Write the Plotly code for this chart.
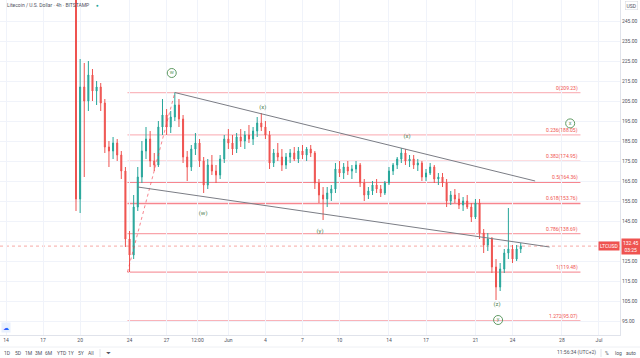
import plotly.graph_objects as go
import pandas as pd

# ---------------- data ----------------
start_time = "2021-05-19 08:00"
first_open = 290
closes = [270, 156, 212, 205, 218, 210, 212, 204, 182, 180, 184, 178, 170, 136, 128, 152, 167, 180, 186, 175,
          173, 192, 198, 192, 197, 203, 196, 177, 172, 181, 184, 175, 163, 173, 170, 168, 176, 186, 184, 181,
          187, 185, 188, 186, 190, 194, 192, 188, 174, 179, 177, 173, 177, 179, 176, 180, 178, 181, 179, 164,
          158, 156, 159, 161, 171, 169, 172, 170, 171, 173, 164, 158, 160, 163, 161, 159, 164, 170, 173, 176,
          179, 175, 176, 173, 174, 167, 169, 172, 166, 167, 164, 155, 158, 156, 153, 155, 152, 147, 154, 139,
          133, 136, 122, 112, 121, 129, 131, 126, 131, 132.45]
highs = [300, 275, 226, 224, 225, 221, 215, 214, 206, 185, 187, 186, 180, 172, 140, 158, 172, 185, 192, 190,
         179, 195, 206, 201, 200, 209.23, 206, 198, 180, 183, 189, 186, 177, 176, 178, 173, 178, 188, 191, 188,
         189, 191, 190, 193, 192, 197, 199, 195, 190, 181, 184, 181, 179, 181, 182, 182, 183, 182, 183, 180,
         166, 162, 162, 163, 174, 175, 174, 175, 173, 175, 174, 166, 162, 165, 166, 163, 165, 172, 174, 177,
         181.5, 181, 178, 178, 176, 175, 171, 174, 173, 169, 169, 166, 160, 161, 159, 157, 158, 154, 156, 156,
         141, 139, 137, 126, 124, 131, 151.5, 133, 133, 134]
lows = [262, 150, 149, 167, 200, 205, 203, 200, 179, 172, 176, 175, 166, 132, 119.48, 126, 150, 164, 176, 172,
        170, 172, 188, 188, 189, 195, 192, 174, 165, 170, 178, 172, 159, 161, 168, 164, 166, 174, 181, 178,
        179, 182, 181, 184, 183, 187, 190, 186, 171, 172, 175, 170, 171, 174, 175, 174, 176, 175, 177, 161,
        154, 145.5, 152, 155, 159, 167, 166, 168, 166, 169, 162, 155, 156, 158, 159, 157, 158, 163, 168, 171,
        174, 173, 172, 171, 170, 165, 165, 168, 164, 163, 162, 152, 153, 154, 151, 150, 151, 144.5, 146, 136,
        129, 130, 119, 105.5, 110, 119, 126, 124, 125, 129]

fib_ratios = ["0", "0.236", "0.382", "0.5", "0.618", "0.786", "1", "1.272"]
fib_prices = [209.23, 188.05, 174.95, 164.36, 153.76, 138.69, 119.48, 95.07]
fib_start = "2021-05-23 20:00"
fib_end = "2021-06-29 12:00"

fib_trend_dates = ["2021-05-23 20:00", "2021-05-27 16:00"]
fib_trend_prices = [119.48, 209.23]
upper_line_dates = ["2021-05-27 16:00", "2021-06-25 20:00"]
upper_line_prices = [209.23, 165.0]
lower_line_dates = ["2021-05-24 16:00", "2021-06-27 00:00"]
lower_line_prices = [162.0, 132.0]

wave_text = ["(x)", "(w)", "(y)", "(x)", "(z)"]
wave_dates = ["2021-06-03 19:00", "2021-05-29 23:00", "2021-06-08 10:00", "2021-06-15 11:00", "2021-06-22 18:00"]
wave_prices = [202.0, 149.0, 140.0, 187.5, 103.5]
circ_text = ["w", "x", "y"]
circ_dates = ["2021-05-27 10:00", "2021-06-28 16:00", "2021-06-22 20:00"]
circ_prices = [219.0, 193.8, 95.5]

tick_dates = ["2021-05-14", "2021-05-17", "2021-05-20", "2021-05-24", "2021-05-27", "2021-05-29 12:00",
              "2021-06-01", "2021-06-04", "2021-06-07", "2021-06-10", "2021-06-14", "2021-06-17",
              "2021-06-21", "2021-06-24", "2021-06-28", "2021-07-01"]
tick_text = ["14", "17", "20", "24", "27", "12:00", "Jun", "4", "7", "10", "14", "17", "21", "24", "28", "Jul"]
y_ticks = [95, 105, 115, 125, 135, 145, 155, 165, 175, 185, 195, 205, 215, 225, 235, 245, 255]
y_labels = ["95.00", "105.00", "115.00", "125.00", "", "145.00", "155.00", "165.00", "175.00", "185.00",
            "195.00", "205.00", "215.00", "225.00", "235.00", "245.00", "255.00"]

range_buttons = ["1D", "5D", "1M", "3M", "6M", "YTD", "1Y", "5Y", "All"]
range_button_px = [7, 17.5, 28, 39, 49, 61, 71, 81, 91]

last_price = 132.45
# ---------------------------------------

times = pd.date_range(start_time, periods=len(closes), freq="8h")
opens = [first_open] + closes[:-1]

UP = "#26a69a"
DN = "#ef5350"
FIBC = "rgba(242,54,69,{})"
GREEN = "#5f9a63"
TXT = "#50535e"
FONT = "Roboto"
PLOT_W = 620.0
PLOT_H = 335.0

fig = go.Figure()
fig.add_trace(go.Candlestick(
    x=times, open=opens, high=highs, low=lows, close=closes,
    increasing=dict(line=dict(color=UP, width=1), fillcolor=UP),
    decreasing=dict(line=dict(color=DN, width=1), fillcolor=DN),
    whiskerwidth=0, showlegend=False, hoverinfo="skip"))

shapes = []
fib_alpha = [0.35, 0.35, 0.35, 0.6, 0.6, 0.45, 0.5, 0.5]
for r, p, a in zip(fib_ratios, fib_prices, fib_alpha):
    shapes.append(dict(type="line", xref="x", yref="y", x0=fib_start, x1=fib_end, y0=p, y1=p,
                       line=dict(color=FIBC.format(a), width=1.3), layer="below"))
shapes.append(dict(type="line", xref="x", yref="y", x0=fib_trend_dates[0], x1=fib_trend_dates[1],
                   y0=fib_trend_prices[0], y1=fib_trend_prices[1],
                   line=dict(color="rgba(242,54,69,0.6)", width=1, dash="dot")))
for d, p in ((upper_line_dates, upper_line_prices), (lower_line_dates, lower_line_prices)):
    shapes.append(dict(type="line", xref="x", yref="y", x0=d[0], x1=d[1], y0=p[0], y1=p[1],
                       line=dict(color="#7b7d85", width=1)))
shapes.append(dict(type="line", xref="paper", yref="y", x0=0, x1=1, y0=last_price, y1=last_price,
                   line=dict(color="rgba(239,83,80,0.5)", width=1, dash="dot"), layer="below"))
shapes.append(dict(type="line", xref="paper", yref="paper", x0=0, x1=640 / PLOT_W, y0=-12 / PLOT_H, y1=-12 / PLOT_H,
                   line=dict(color="#eef0f4", width=1)))
shapes.append(dict(type="line", xref="paper", yref="paper", x0=100 / PLOT_W, x1=100 / PLOT_W,
                   y0=-14 / PLOT_H, y1=-22 / PLOT_H, line=dict(color="#e0e3eb", width=1)))
shapes.append(dict(type="line", xref="paper", yref="paper", x0=601 / PLOT_W, x1=601 / PLOT_W,
                   y0=-14 / PLOT_H, y1=-22 / PLOT_H, line=dict(color="#e0e3eb", width=1)))

annotations = []
for r, p in zip(fib_ratios, fib_prices):
    annotations.append(dict(x=fib_end, y=p, xref="x", yref="y", text=f"{r}({p:.2f})", showarrow=False,
                            xanchor="right", yanchor="bottom", yshift=-1,
                            font=dict(family=FONT, size=5, color="#ef5350")))

fig.add_trace(go.Scatter(x=wave_dates, y=wave_prices, mode="text", text=wave_text,
                         textfont=dict(family=FONT, size=6, color="#4f7f52"), showlegend=False, hoverinfo="skip"))
fig.add_trace(go.Scatter(x=circ_dates, y=circ_prices, mode="markers+text", text=circ_text,
                         marker=dict(symbol="circle-open", size=9, color=GREEN, line=dict(width=1)),
                         textposition="middle center",
                         textfont=dict(family=FONT, size=5.5, color=GREEN), showlegend=False, hoverinfo="skip"))

annotations.append(dict(x=5 / PLOT_W, y=1 - 5 / PLOT_H, xref="paper", yref="paper",
                        text="Litecoin / U.S. Dollar · 4h · BITSTAMP",
                        showarrow=False, xanchor="left", yanchor="middle",
                        font=dict(family=FONT, size=5, color=TXT)))
annotations.append(dict(x=98 / PLOT_W, y=1 - 5 / PLOT_H, xref="paper", yref="paper", text="●", showarrow=False,
                        xanchor="center", yanchor="middle", font=dict(family=FONT, size=4.5, color=UP)))
for t, px in zip(range_buttons, range_button_px):
    annotations.append(dict(x=px / PLOT_W, y=-18 / PLOT_H, xref="paper", yref="paper", text=t, showarrow=False,
                            xanchor="center", yanchor="middle", font=dict(family=FONT, size=5, color=TXT)))
annotations.append(dict(x=108 / PLOT_W, y=-18 / PLOT_H, xref="paper", yref="paper", text="⏷", showarrow=False,
                        xanchor="center", yanchor="middle", font=dict(family=FONT, size=6, color=TXT)))
annotations.append(dict(x=576 / PLOT_W, y=-18 / PLOT_H, xref="paper", yref="paper", text="11:56:34 (UTC+2)",
                        showarrow=False, xanchor="center", yanchor="middle",
                        font=dict(family=FONT, size=5, color=TXT)))
for t, px in zip(["%", "log", "auto"], [607, 618, 631]):
    annotations.append(dict(x=px / PLOT_W, y=-18 / PLOT_H, xref="paper", yref="paper", text=t, showarrow=False,
                            xanchor="center", yanchor="middle", font=dict(family=FONT, size=5, color=TXT)))
annotations.append(dict(x=6 / PLOT_W, y=8 / PLOT_H, xref="paper", yref="paper", text="☁", showarrow=False,
                        xanchor="center", yanchor="middle", bgcolor="#e8f0fe",
                        font=dict(family=FONT, size=6, color="#2962ff")))
annotations.append(dict(x=1.0, y=last_price, xref="paper", yref="y", text="LTCUSD", showarrow=False,
                        xanchor="right", yanchor="middle", bgcolor=DN, borderpad=1,
                        font=dict(family=FONT, size=5, color="white")))
annotations.append(dict(x=1.002, y=last_price, xref="paper", yref="y", text="132.45<br>03:25", showarrow=False,
                        xanchor="left", yanchor="middle", bgcolor=DN, borderpad=1,
                        font=dict(family=FONT, size=5, color="white")))
annotations.append(dict(x=638 / PLOT_W, y=1 - 6 / PLOT_H, xref="paper", yref="paper", text="USD", showarrow=False,
                        xanchor="right", yanchor="middle", bordercolor="#d1d4dc", borderwidth=0.5, borderpad=1,
                        bgcolor="white", font=dict(family=FONT, size=5, color=TXT)))

fig.update_layout(
    width=640, height=358,
    margin=dict(l=0, r=20, t=0, b=23),
    paper_bgcolor="white", plot_bgcolor="white",
    shapes=shapes, annotations=annotations,
    showlegend=False,
    boxgap=0.65,
    xaxis=dict(type="date", range=["2021-05-13 12:20", "2021-07-02 16:50"],
               tickvals=tick_dates, ticktext=tick_text, tickfont=dict(family=FONT, size=5, color=TXT),
               showgrid=True, gridcolor="#f0f3fa", gridwidth=1, rangeslider=dict(visible=False),
               showline=True, linecolor="#e0e3eb", linewidth=1, ticks="", zeroline=False, fixedrange=True),
    yaxis=dict(side="right", range=[88, 255.5], tickvals=y_ticks, ticktext=y_labels,
               tickfont=dict(family=FONT, size=5, color=TXT),
               showgrid=True, gridcolor="#f0f3fa", gridwidth=1, showline=True, linecolor="#e0e3eb",
               ticks="", zeroline=False, fixedrange=True),
)

fig.write_html("out.html", config={"displayModeBar": False},
               post_script="document.body.style.margin='0';document.body.style.overflow='hidden';")
